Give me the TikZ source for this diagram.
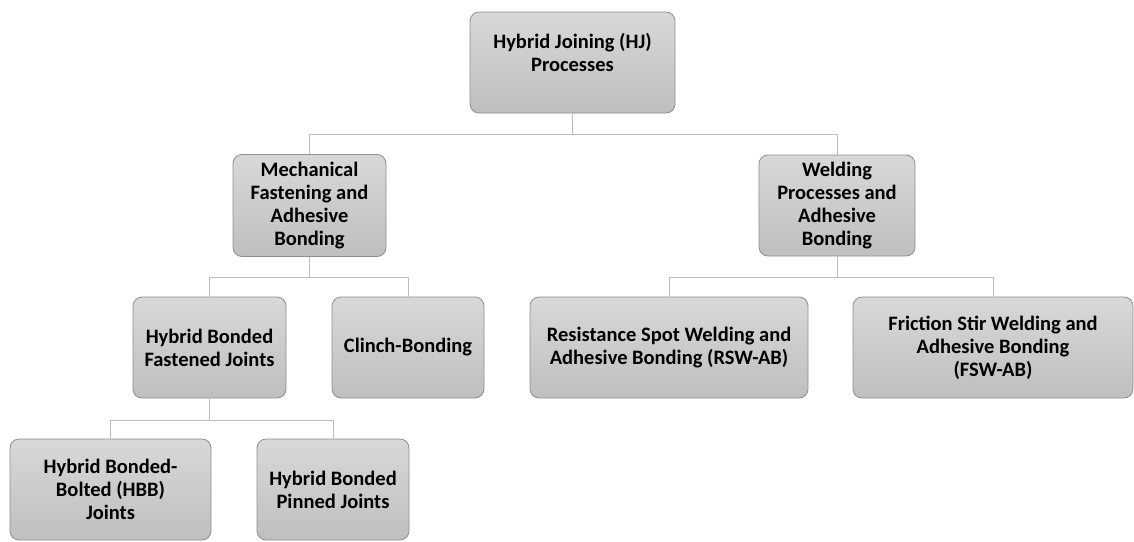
\documentclass[tikz,border=0pt]{standalone}
\usepackage{fontspec}
\setmainfont{Carlito}
\definecolor{boxtop}{HTML}{D8D8D8}
\definecolor{boxbot}{HTML}{BFBFBF}
\definecolor{boxline}{HTML}{8E8E8E}
\definecolor{connline}{HTML}{BDBDBD}
\begin{document}
\begin{tikzpicture}[x=1pt,y=-1pt,
  box/.style={draw=boxline, line width=0.8pt, rounded corners=9pt,
    top color=boxtop, bottom color=boxbot, align=center,
    font=\fontsize{20.5}{23}\selectfont\bfseries, inner sep=0pt,
    text=black},
  conn/.style={draw=connline, line width=1pt}]
\useasboundingbox (0,0) rectangle (1134,541);
% boxes
\node[box, minimum width=205pt, minimum height=101pt] (hj) at (572.5,62.5)
  {Hybrid Joining (HJ)\\Processes\\[-3pt]\mbox{}};
\node[box, minimum width=153pt, minimum height=102pt] (mfab) at (309.5,205.5)
  {Mechanical\\Fastening and\\Adhesive\\Bonding};
\node[box, minimum width=156pt, minimum height=101pt] (wpab) at (837,205.5)
  {Welding\\Processes and\\Adhesive\\Bonding};
\node[box, minimum width=153pt, minimum height=101pt] (hbfj) at (209.5,347.5)
  {Hybrid Bonded\\Fastened Joints};
\node[box, minimum width=152pt, minimum height=101pt] (clinch) at (408,347.5)
  {Clinch-Bonding};
\node[box, minimum width=278pt, minimum height=101pt] (rsw) at (669,347.5)
  {Resistance Spot Welding and\\Adhesive Bonding (RSW-AB)};
\node[box, minimum width=280pt, minimum height=101pt] (fsw) at (993,347.5)
  {Friction Stir Welding and\\Adhesive Bonding\\(FSW-AB)};
\node[box, minimum width=201pt, minimum height=101pt] (hbb) at (110.5,489.5)
  {Hybrid Bonded-\\Bolted (HBB)\\Joints};
\node[box, minimum width=152pt, minimum height=101pt] (hbpj) at (333,489.5)
  {Hybrid Bonded\\Pinned Joints};
% connectors
\draw[conn] (hj.south) -- (hj.south |- 0,134) -| (mfab.north);
\draw[conn] (hj.south |- 0,134) -| (wpab.north);
\draw[conn] (mfab.south) -- (mfab.south |- 0,277) -| (hbfj.north);
\draw[conn] (mfab.south |- 0,277) -| (clinch.north);
\draw[conn] (wpab.south) -- (wpab.south |- 0,277) -| (rsw.north);
\draw[conn] (wpab.south |- 0,277) -| (fsw.north);
\draw[conn] (hbfj.south) -- (hbfj.south |- 0,420) -| (hbb.north);
\draw[conn] (hbfj.south |- 0,420) -| (hbpj.north);
\end{tikzpicture}
\end{document}
